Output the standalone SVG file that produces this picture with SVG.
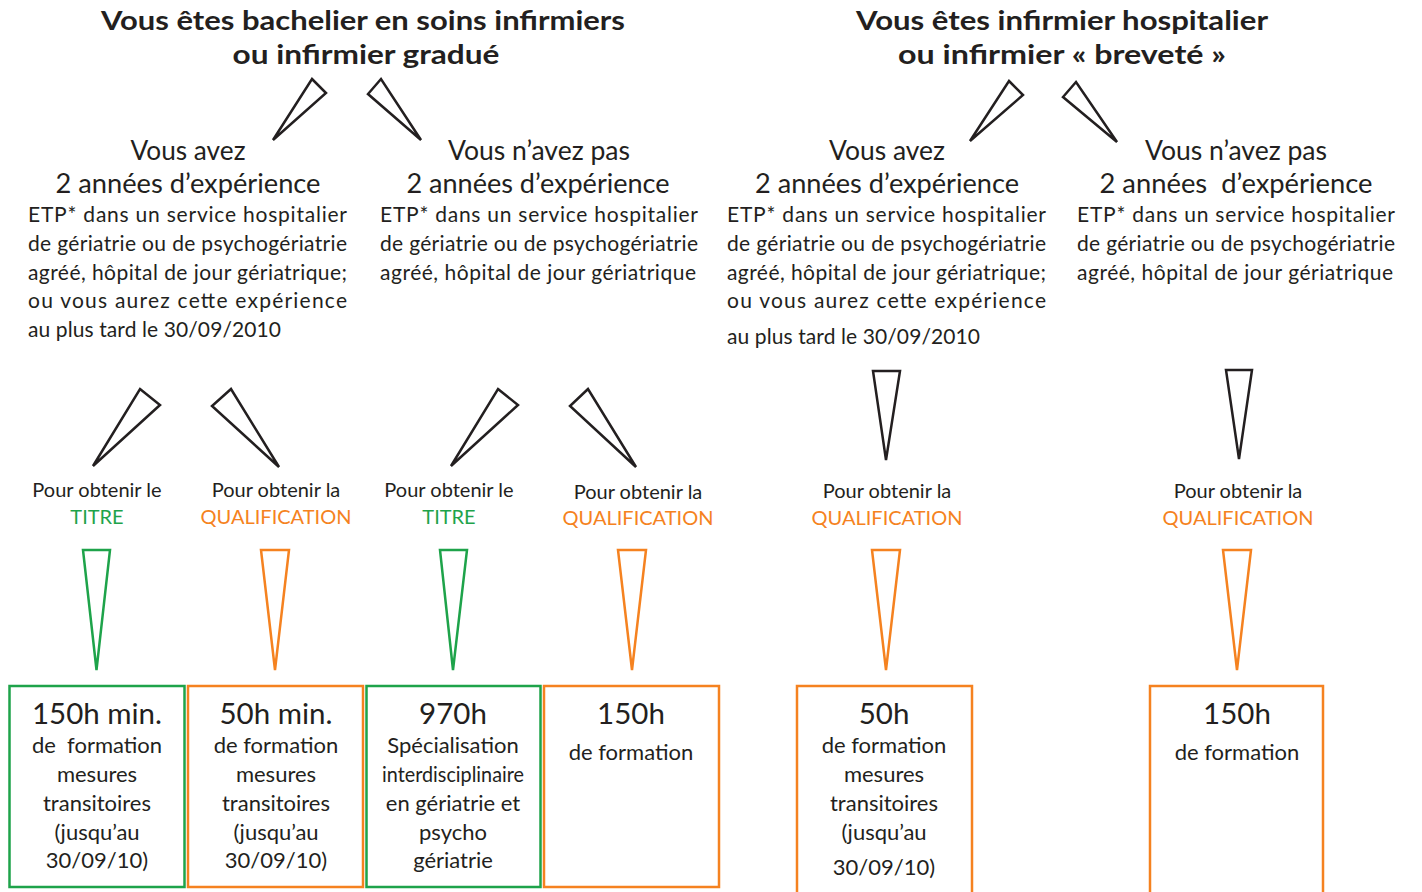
<svg xmlns="http://www.w3.org/2000/svg" width="1422" height="892" viewBox="0 0 1422 892">
<style>
text{font-family:Lato,"Open Sans","Liberation Sans",sans-serif;fill:#231f20}
.title{font-weight:bold;font-size:27px;text-anchor:middle}
.head{font-size:26px;text-anchor:middle}
.para{font-size:21px}
.lbl{font-size:20px;text-anchor:middle}
.green{fill:#1ea34a}
.orange{fill:#f58220}
.big{font-size:29.5px;text-anchor:middle}
.bt{font-size:22px;text-anchor:middle}
.tk{fill:none;stroke:#231f20;stroke-width:2.5;stroke-linejoin:miter}
.tg{fill:none;stroke:#1ea34a;stroke-width:2.5}
.to{fill:none;stroke:#f58220;stroke-width:2.5}
.bg{fill:none;stroke:#1ea34a;stroke-width:2.5}
.bo{fill:none;stroke:#f58220;stroke-width:2.5}
</style>
<rect width="1422" height="892" fill="#fff"/>

<g id="connectors">
  <polygon class="tk" points="312,79 326,93 273,140"/>
  <polygon class="tk" points="381,79 368,94 421,140"/>
  <polygon class="tk" points="1009,81 1023,95 970,141"/>
  <polygon class="tk" points="1076,82 1063,97 1117,142"/>
  <polygon class="tk" points="140,389 160,405 93,466"/>
  <polygon class="tk" points="231,389 212,406 279,467"/>
  <polygon class="tk" points="498,389 518,405 451,466"/>
  <polygon class="tk" points="588,389 570,406 636,467"/>
  <polygon class="tk" points="873,371 900,371 886,460"/>
  <polygon class="tk" points="1226,370 1252,370 1239,459"/>
  <polygon class="tg" points="83,550 110,550 96.5,670"/>
  <polygon class="to" points="261,550 289,550 275,670"/>
  <polygon class="tg" points="440,550 467,550 453,670"/>
  <polygon class="to" points="618,550 646,550 632,670"/>
  <polygon class="to" points="872,550 900,550 886,670"/>
  <polygon class="to" points="1223,550 1251,550 1237,670"/>
</g>

<g id="title-left">
  <text class="title" x="363" y="30" textLength="524" lengthAdjust="spacingAndGlyphs">Vous êtes bachelier en soins infirmiers</text>
  <text class="title" x="366" y="64" textLength="267" lengthAdjust="spacingAndGlyphs">ou infirmier gradué</text>
</g>
<g id="title-right">
  <text class="title" x="1062" y="30" textLength="412" lengthAdjust="spacingAndGlyphs">Vous êtes infirmier hospitalier</text>
  <text class="title" x="1062" y="64" textLength="328" lengthAdjust="spacingAndGlyphs">ou infirmier « breveté »</text>
</g>

<g id="branch-1">
  <text class="head" x="188" y="160" textLength="115" lengthAdjust="spacingAndGlyphs">Vous avez</text>
  <text class="head" x="188" y="193" textLength="265" lengthAdjust="spacingAndGlyphs">2 années d’expérience</text>
  <text class="para" x="28" y="222" textLength="319" lengthAdjust="spacing">ETP* dans un service hospitalier</text>
  <text class="para" x="28" y="251" textLength="319" lengthAdjust="spacing">de gériatrie ou de psychogériatrie</text>
  <text class="para" x="28" y="280" textLength="319" lengthAdjust="spacing">agréé, hôpital de jour gériatrique;</text>
  <text class="para" x="28" y="308" textLength="319" lengthAdjust="spacing">ou vous aurez cette expérience</text>
  <text class="para" x="28" y="337" textLength="253" lengthAdjust="spacing">au plus tard le 30/09/2010</text>
</g>
<g id="branch-2">
  <text class="head" x="539" y="160" textLength="182" lengthAdjust="spacingAndGlyphs">Vous n’avez pas</text>
  <text class="head" x="538" y="193" textLength="263" lengthAdjust="spacingAndGlyphs">2 années d’expérience</text>
  <text class="para" x="380" y="222" textLength="318" lengthAdjust="spacing">ETP* dans un service hospitalier</text>
  <text class="para" x="380" y="251" textLength="318" lengthAdjust="spacing">de gériatrie ou de psychogériatrie</text>
  <text class="para" x="380" y="280" textLength="316" lengthAdjust="spacing">agréé, hôpital de jour gériatrique</text>
</g>
<g id="branch-3">
  <text class="head" x="887" y="160" textLength="116" lengthAdjust="spacingAndGlyphs">Vous avez</text>
  <text class="head" x="887" y="193" textLength="264" lengthAdjust="spacingAndGlyphs">2 années d’expérience</text>
  <text class="para" x="727" y="222" textLength="319" lengthAdjust="spacing">ETP* dans un service hospitalier</text>
  <text class="para" x="727" y="251" textLength="319" lengthAdjust="spacing">de gériatrie ou de psychogériatrie</text>
  <text class="para" x="727" y="280" textLength="319" lengthAdjust="spacing">agréé, hôpital de jour gériatrique;</text>
  <text class="para" x="727" y="308" textLength="319" lengthAdjust="spacing">ou vous aurez cette expérience</text>
  <text class="para" x="727" y="344" textLength="253" lengthAdjust="spacing">au plus tard le 30/09/2010</text>
</g>
<g id="branch-4">
  <text class="head" x="1236" y="160" textLength="182" lengthAdjust="spacingAndGlyphs">Vous n’avez pas</text>
  <text class="head" x="1236" y="193" textLength="273" lengthAdjust="spacingAndGlyphs" xml:space="preserve">2 années  d’expérience</text>
  <text class="para" x="1077" y="222" textLength="318" lengthAdjust="spacing">ETP* dans un service hospitalier</text>
  <text class="para" x="1077" y="251" textLength="318" lengthAdjust="spacing">de gériatrie ou de psychogériatrie</text>
  <text class="para" x="1077" y="280" textLength="316" lengthAdjust="spacing">agréé, hôpital de jour gériatrique</text>
</g>

<g id="label-1">
  <text class="lbl" x="97" y="497">Pour obtenir le</text>
  <text class="lbl green" x="97" y="524">TITRE</text>
</g>
<g id="label-2">
  <text class="lbl" x="276" y="497">Pour obtenir la</text>
  <text class="lbl orange" x="276" y="524">QUALIFICATION</text>
</g>
<g id="label-3">
  <text class="lbl" x="449" y="497">Pour obtenir le</text>
  <text class="lbl green" x="449" y="524">TITRE</text>
</g>
<g id="label-4">
  <text class="lbl" x="638" y="499">Pour obtenir la</text>
  <text class="lbl orange" x="638" y="525">QUALIFICATION</text>
</g>
<g id="label-5">
  <text class="lbl" x="887" y="498">Pour obtenir la</text>
  <text class="lbl orange" x="887" y="525">QUALIFICATION</text>
</g>
<g id="label-6">
  <text class="lbl" x="1238" y="498">Pour obtenir la</text>
  <text class="lbl orange" x="1238" y="525">QUALIFICATION</text>
</g>

<g id="box-1">
  <rect class="bg" x="9.5" y="686" width="175" height="201"/>
  <text class="big" x="97" y="724">150h min.</text>
  <text class="bt" x="97" y="753" xml:space="preserve">de  formation</text>
  <text class="bt" x="97" y="782">mesures</text>
  <text class="bt" x="97" y="811">transitoires</text>
  <text class="bt" x="97" y="840">(jusqu’au</text>
  <text class="bt" x="97" y="868">30/09/10)</text>
</g>
<g id="box-2">
  <rect class="bo" x="188" y="686" width="175" height="201"/>
  <text class="big" x="276" y="724">50h min.</text>
  <text class="bt" x="276" y="753">de formation</text>
  <text class="bt" x="276" y="782">mesures</text>
  <text class="bt" x="276" y="811">transitoires</text>
  <text class="bt" x="276" y="840">(jusqu’au</text>
  <text class="bt" x="276" y="868">30/09/10)</text>
</g>
<g id="box-3">
  <rect class="bg" x="366.5" y="686" width="174" height="201"/>
  <text class="big" x="453" y="724">970h</text>
  <text class="bt" x="453" y="753">Spécialisation</text>
  <text class="bt" x="453" y="782" textLength="142" lengthAdjust="spacingAndGlyphs">interdisciplinaire</text>
  <text class="bt" x="453" y="811">en gériatrie et</text>
  <text class="bt" x="453" y="840">psycho</text>
  <text class="bt" x="453" y="868">gériatrie</text>
</g>
<g id="box-4">
  <rect class="bo" x="544" y="686" width="175" height="201"/>
  <text class="big" x="631" y="724">150h</text>
  <text class="bt" x="631" y="760">de formation</text>
</g>
<g id="box-5">
  <rect class="bo" x="797" y="686" width="175" height="220"/>
  <text class="big" x="884" y="724">50h</text>
  <text class="bt" x="884" y="753">de formation</text>
  <text class="bt" x="884" y="782">mesures</text>
  <text class="bt" x="884" y="811">transitoires</text>
  <text class="bt" x="884" y="840">(jusqu’au</text>
  <text class="bt" x="884" y="875">30/09/10)</text>
</g>
<g id="box-6">
  <rect class="bo" x="1150" y="686" width="173" height="220"/>
  <text class="big" x="1237" y="724">150h</text>
  <text class="bt" x="1237" y="760">de formation</text>
</g>
</svg>
